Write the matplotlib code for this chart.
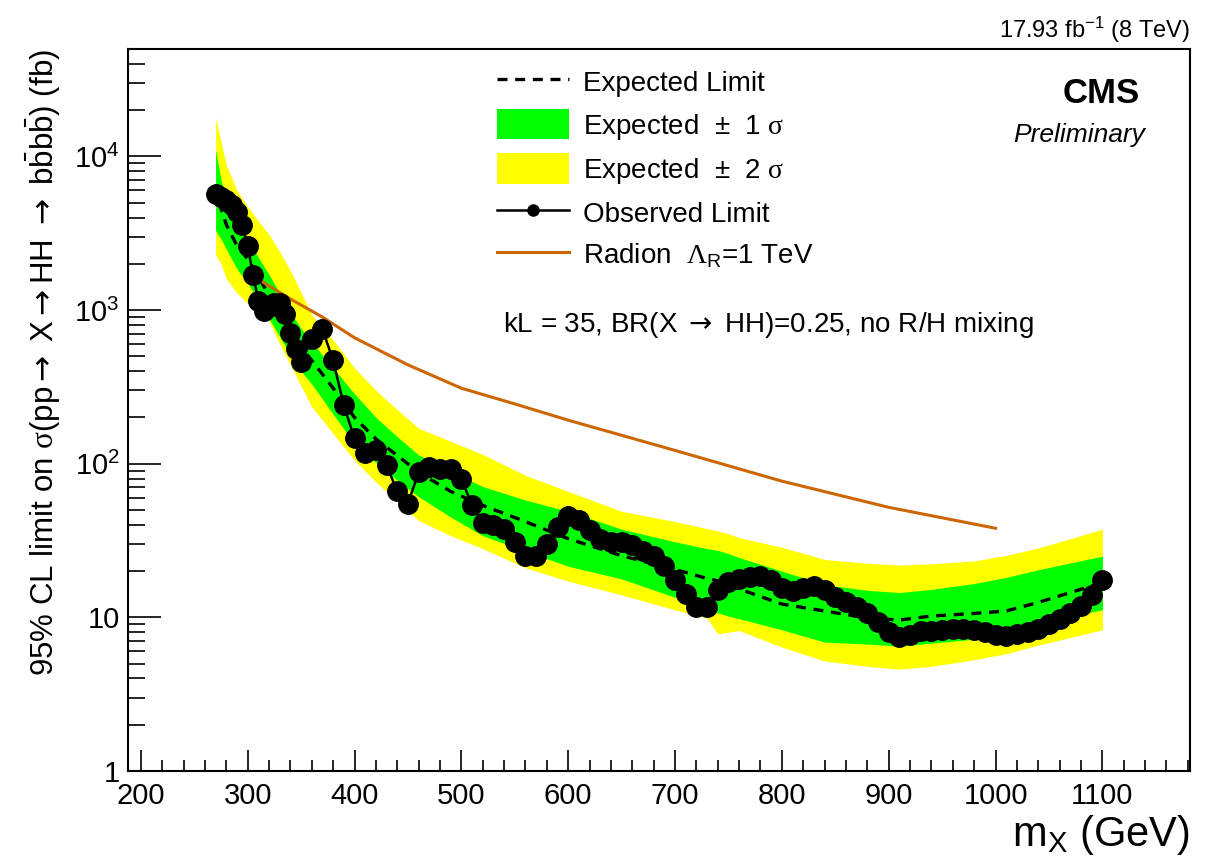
import numpy as np
import matplotlib
matplotlib.use("Agg")
import matplotlib.pyplot as plt
from matplotlib.lines import Line2D
from matplotlib.patches import Patch
from matplotlib.ticker import MultipleLocator, FuncFormatter

plt.rcParams["font.family"] = ["Liberation Sans", "DejaVu Sans"]
plt.rcParams["mathtext.fontset"] = "custom"
plt.rcParams["mathtext.rm"] = "Liberation Sans"
plt.rcParams["mathtext.it"] = "Liberation Sans:italic"
plt.rcParams["mathtext.bf"] = "Liberation Sans:bold"
plt.rcParams["mathtext.sf"] = "DejaVu Sans"
plt.rcParams["mathtext.cal"] = "Liberation Serif"

# Expected limit and bands (fb)
m_band = [270, 275, 280, 290, 300, 310, 320, 330, 340, 350,
          360, 380, 400, 420, 440, 460, 490, 520, 560, 600,
          650, 700, 730, 740, 750, 760, 800, 840, 880, 910,
          940, 980, 1010, 1040, 1070, 1100]
exp_lim = [6500, 4600, 3600, 2620, 2150, 1650, 1250, 950, 720, 570,
           470, 310, 200, 145, 113, 88, 66, 53.5, 42, 32.5,
           25.2, 20.5, 17.9, 17.3, 16.3, 15.3, 12.2, 11.0, 9.9, 9.6,
           10.2, 10.6, 11.0, 12.5, 14.5, 16.8]
y2_up = [17800, 12500, 8800, 6000, 4700, 3800, 3100, 2400, 1800, 1300,
         930, 640, 420, 300, 225, 170, 140, 115, 84, 66,
         49, 42, 37.8, 36.5, 35, 33, 28.6, 23.8, 22.5, 21.9,
         22.3, 23.3, 25.3, 28.3, 32.5, 37.5]
y1_up = [11000, 7000, 5300, 3600, 2850, 2200, 1700, 1280, 970, 760,
         620, 420, 285, 200, 150, 114, 89, 71, 58, 49,
         37.5, 31, 28, 27.3, 26, 24.5, 20, 16.3, 15.0, 14.5,
         15.2, 16.6, 18.2, 20.4, 22.6, 25]
y1_dn = [3300, 2900, 2500, 1850, 1500, 1150, 880, 670, 510, 400,
         330, 210, 135, 102, 78, 61, 45, 34, 27, 21.5,
         17.8, 13.5, 11.1, 10.7, 10.2, 9.8, 8.3, 6.9, 6.7, 6.5,
         6.8, 7.2, 8.0, 9.3, 10.2, 11.2]
y2_dn = [2290, 2000, 1600, 1290, 1100, 980, 850, 600, 440, 320,
         235, 157, 105, 76, 57, 42.7, 34, 28, 21, 17.2,
         14, 11.2, 9.9, 7.8, 8.0, 8.2, 6.4, 5.2, 4.8, 4.6,
         4.8, 5.3, 5.8, 6.6, 7.4, 8.3]

# Observed limit (fb)
m_obs = [270, 275, 280, 285, 290, 295, 300, 305, 310, 315,
         320, 325, 330, 335, 340, 345, 350, 360, 370, 380,
         390, 400, 410, 420, 430, 440, 450, 460, 470, 480,
         490, 500, 510, 520, 530, 540, 550, 560, 570, 580,
         590, 600, 610, 620, 630, 640, 650, 660, 670, 680,
         690, 700, 710, 720, 730, 740, 750, 760, 770, 780,
         790, 800, 810, 820, 830, 840, 850, 860, 870, 880,
         890, 900, 910, 920, 930, 940, 950, 960, 970, 980,
         990, 1000, 1010, 1020, 1030, 1040, 1050, 1060, 1070, 1080,
         1090, 1100]
obs = [5700, 5450, 5200, 4850, 4350, 3600, 2600, 1700, 1150, 990,
       1050, 1110, 1110, 940, 710, 560, 460, 645, 750, 470,
       240, 146, 117, 122, 98, 66, 55, 88, 95, 93,
       93, 80, 53.5, 41, 40, 37.7, 30.9, 25.2, 24.9, 30.1,
       38.6, 46, 43.2, 37.2, 32.5, 30.9, 30.9, 29.4, 27.2, 24.9,
       21.7, 17.5, 14.1, 11.7, 11.7, 15.1, 16.9, 17.8, 18.2, 18.7,
       17.4, 15.6, 14.9, 15.6, 16.1, 15.1, 13.5, 12.5, 11.6, 10.6,
       9.3, 8.0, 7.4, 7.65, 8.1, 8.2, 8.3, 8.4, 8.4, 8.3,
       8.0, 7.7, 7.6, 7.8, 8.0, 8.4, 9.0, 9.75, 10.6, 11.9,
       14.0, 17.4]

# Radion cross section (fb)
m_rad = [300, 340, 370, 400, 450, 500, 550, 600, 700, 800, 900, 1000]
rad = [1750, 1180, 900, 660, 440, 310, 245, 192, 122, 77, 52, 38]

green = "#00ff00"
yellow = "#ffff00"
orange = "#cc6600"
dash = (0, (3, 2.3))
arrow = r"$\mathsf{\rightarrow}$"
sig = r"$\mathcal{\sigma}$"

fig = plt.figure(figsize=(12.2, 8.63), dpi=100)
ax = fig.add_axes([128 / 1220, 92 / 863, 1062 / 1220, 722 / 863])

ax.fill_between(m_band, y2_dn, y2_up, color=yellow, lw=0, zorder=1)
ax.fill_between(m_band, y1_dn, y1_up, color=green, lw=0, zorder=2)
ax.plot(m_band, exp_lim, color="k", lw=2.4, ls=dash, zorder=3)
ax.plot(m_rad, rad, color=orange, lw=2.2, zorder=4)
ax.plot(m_obs, obs, "o-", color="k", lw=1.8, ms=14, zorder=5)

ax.set_yscale("log")
ax.set_xlim(188, 1182)
ax.set_ylim(1, 5e4)

ax.xaxis.set_major_locator(MultipleLocator(100))
ax.xaxis.set_minor_locator(MultipleLocator(20))


def fmt_y(v, pos):
    e = int(round(np.log10(v)))
    if e == 0:
        return "1"
    if e == 1:
        return "10"
    return r"$10^{%d}$" % e


ax.yaxis.set_major_formatter(FuncFormatter(fmt_y))
ax.tick_params(which="both", direction="in", top=False, right=False)
ax.tick_params(axis="y", which="major", length=24, width=1.2, pad=6, labelsize=21)
ax.tick_params(axis="y", which="minor", length=12, width=1.2)
ax.tick_params(axis="x", which="major", length=15, width=1.2, pad=8, labelsize=21)
ax.tick_params(axis="x", which="minor", length=8, width=1.2)
for s in ax.spines.values():
    s.set_linewidth(1.5)

ax.set_xlabel(r"m$_{\mathrm{X}}$ (GeV)", fontsize=30, loc="right", labelpad=2)
ax.set_ylabel("95% CL limit on " + sig + "(pp" + arrow + " X" + arrow + "HH " + arrow
              + r" $\mathrm{b\bar{b}b\bar{b}}$) (fb)",
              fontsize=22.5, loc="top", labelpad=8)

fig.text(1190 / 1220, 1 - 30 / 863, r"17.93 fb$^{-1}$ (8 TeV)", ha="right",
         va="center", fontsize=17)
ax.text(0.953, 0.939, "CMS", transform=ax.transAxes, ha="right", va="center",
        fontsize=25, fontweight="bold")
ax.text(0.958, 0.881, "Preliminary", transform=ax.transAxes, ha="right",
        va="center", fontsize=19, style="italic")
ax.text(0.353, 0.618, "kL = 35, BR(X " + arrow + " HH)=0.25, no R/H mixing",
        transform=ax.transAxes, ha="left", va="center", fontsize=20)

handles = [
    Line2D([], [], color="k", lw=2.4, ls=dash),
    Patch(fc=green, lw=0),
    Patch(fc=yellow, lw=0),
    Line2D([], [], color="k", marker="o", lw=1.8, ms=8),
    Line2D([], [], color=orange, lw=2.2),
]
labels = ["Expected Limit", "Expected  ±  1 " + sig, "Expected  ±  2 " + sig,
          "Observed Limit", r"Radion  $\mathcal{\Lambda}_{\mathrm{R}}$=1 TeV"]
ax.legend(handles, labels, loc="upper left", bbox_to_anchor=(0.347, 0.975),
          frameon=False, fontsize=20, handlelength=2.6, handleheight=1.3,
          handletextpad=0.5, labelspacing=0.42, borderpad=0, borderaxespad=0)

fig.savefig("out.png", dpi=100)
